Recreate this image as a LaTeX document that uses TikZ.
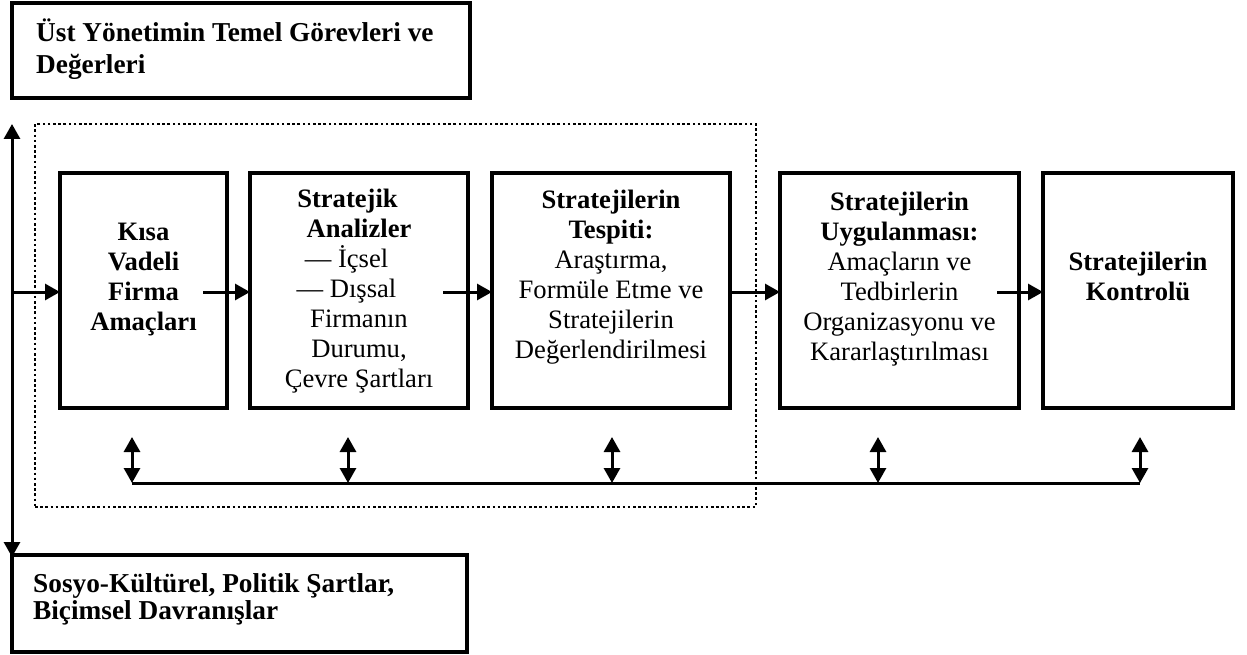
\documentclass[tikz,border=0pt]{standalone}
\usepackage{fontspec}
\setmainfont{Liberation Serif}
\usetikzlibrary{arrows.meta}
\begin{document}
\begin{tikzpicture}[x=1pt,y=-1pt,
  panel/.style={draw, line width=3.5pt, inner sep=0pt, outer sep=0pt},
  txt/.style={align=center, font=\fontsize{26.6}{30}\selectfont, inner sep=0pt},
  side/.style={align=left, font=\bfseries\fontsize{27.3}{32}\selectfont, inner sep=0pt, anchor=west},
  flow/.style={line width=3pt, -{Triangle[length=15pt,width=16pt]}},
  both/.style={line width=3pt, {Triangle[length=15pt,width=16pt]}-{Triangle[length=15pt,width=16pt]}},
  bus/.style={line width=3pt},
  frame/.style={draw, line width=2.5pt, dash pattern=on 2.6pt off 2.6pt, inner sep=0pt, outer sep=0pt}
]
\useasboundingbox (0,0) rectangle (1247,655);

% dotted grouping frame
\node[frame, minimum width=721pt, minimum height=383pt] (grp) at (395.5,315.5) {};

% outer boxes
\node[panel, minimum width=458pt, minimum height=95pt] (top) at (241,50.5) {};
\node[panel, minimum width=455pt, minimum height=97pt] (bot) at (239.5,603.5) {};
\node[side] (ttop) at (36,49.5) {Üst Yönetimin Temel Görevleri ve\\Değerleri};
\node[side, font=\bfseries\fontsize{27.3}{27.5}\selectfont] (tbot) at (33,599.5) {Sosyo-Kültürel, Politik Şartlar,\\Biçimsel Davranışlar};

% process boxes
\node[panel, minimum width=167pt, minimum height=235pt] (b1) at (143.5,290.5) {};
\node[panel, minimum width=218pt, minimum height=235pt] (b2) at (359,290.5) {};
\node[panel, minimum width=238pt, minimum height=235pt] (b3) at (611,290.5) {};
\node[panel, minimum width=239pt, minimum height=235pt] (b4) at (899.5,290.5) {};
\node[panel, minimum width=190pt, minimum height=235pt] (b5) at (1138,290.5) {};

\node[txt] (t1) at (143.5,279.5) {\textbf{Kısa}\\\textbf{Vadeli}\\\textbf{Firma}\\\textbf{Amaçları}};
\node[txt] (t2) at (359,291) {\textbf{Stratejik}\hspace*{23pt}\null\\\textbf{Analizler}\\— İçsel\hspace*{25pt}\null\\— Dışsal\hspace*{25pt}\null\\Firmanın\\Durumu,\\Çevre Şartları};
\node[txt] (t3) at (611,277) {\textbf{Stratejilerin}\\\textbf{Tespiti:}\\Araştırma,\\Formüle Etme ve\\Stratejilerin\\Değerlendirilmesi};
\node[txt] (t4) at (899.5,279) {\textbf{Stratejilerin}\\\textbf{Uygulanması:}\\Amaçların ve\\Tedbirlerin\\Organizasyonu ve\\Kararlaştırılması};
\node[txt] (t5) at (1138,276) {\textbf{Stratejilerin}\\\textbf{Kontrolü}};

% left vertical double arrow and flow arrows
\coordinate (vt) at (12,124);
\coordinate (vb) at (12,557);
\coordinate (vm) at (12,292);
\draw[both] (vt) -- (vb);
\draw[flow] (vm) -- (vm -| b1.west);

\coordinate (a1) at (203,292);
\coordinate (a2) at (443,292);
\coordinate (a4) at (997,292);
\draw[flow] (a1) -- (a1 -| b2.west);
\draw[flow] (a2) -- (a2 -| b3.west);
\draw[flow] (a2 -| b3.east) -- (a2 -| b4.west);
\draw[flow] (a4) -- (a4 -| b5.west);

% feedback bus
\foreach \i/\x in {1/132,2/348,3/612,4/878,5/1140}{
  \coordinate (u\i) at (\x,437);
  \coordinate (d\i) at (\x,483);
  \draw[both] (u\i) -- (d\i);
}
\draw[bus] (d1) -- (d5);
\end{tikzpicture}
\end{document}
